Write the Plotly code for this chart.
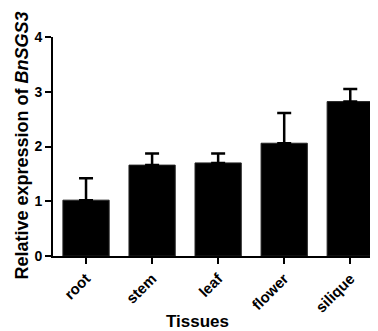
import plotly.graph_objects as go

tissues = ["root", "stem", "leaf", "flower", "silique"]
expression = [1.02, 1.66, 1.70, 2.06, 2.82]
error_up = [0.40, 0.21, 0.17, 0.55, 0.23]
y_ticks = [0, 1, 2, 3, 4]

FONT = "Liberation Sans, Arial, sans-serif"

fig = go.Figure()
fig.add_trace(go.Bar(
    x=tissues, y=expression,
    marker=dict(color="black", line=dict(color="#222", width=1)),
    width=0.7,
    error_y=dict(type="data", symmetric=False, array=error_up,
                 arrayminus=[0] * len(error_up),
                 color="black", thickness=2.5, width=7),
))

# page body has an 8px margin, so the figure is offset by 8px
fig.update_layout(
    width=370, height=323,
    margin=dict(l=45, r=0, t=29, b=75),
    plot_bgcolor="white", paper_bgcolor="white",
    showlegend=False,
    font=dict(family=FONT, color="black"),
    bargap=0.3,
)
fig.update_xaxes(
    range=[-0.5, 4.42], automargin=False,
    showline=True, linecolor="black", linewidth=2,
    ticks="outside", ticklen=6, tickwidth=2, tickcolor="black",
    tickangle=-45,
    tickfont=dict(family=FONT, size=15, color="black", weight="bold"),
    showgrid=False,
)
fig.update_yaxes(
    range=[0, 4], tickvals=y_ticks, automargin=False,
    showline=True, linecolor="black", linewidth=2,
    ticks="outside", ticklen=6, tickwidth=2, tickcolor="black",
    tickfont=dict(family=FONT, size=14, color="black", weight="bold"),
    showgrid=False, zeroline=False,
)
fig.add_annotation(
    text="<b>Relative expression of <i>BnSGS3</i></b>",
    xref="paper", yref="paper", x=0, y=0.5,
    xanchor="center", yanchor="middle", xshift=-32, yshift=1,
    textangle=-90, showarrow=False,
    font=dict(family=FONT, size=18, color="black"),
)
fig.add_annotation(
    text="<b>Tissues</b>",
    xref="paper", yref="paper", x=0.446, y=0,
    xanchor="center", yanchor="middle", yshift=-65,
    showarrow=False,
    font=dict(family=FONT, size=17, color="black"),
)

fig.write_html("out.html")
